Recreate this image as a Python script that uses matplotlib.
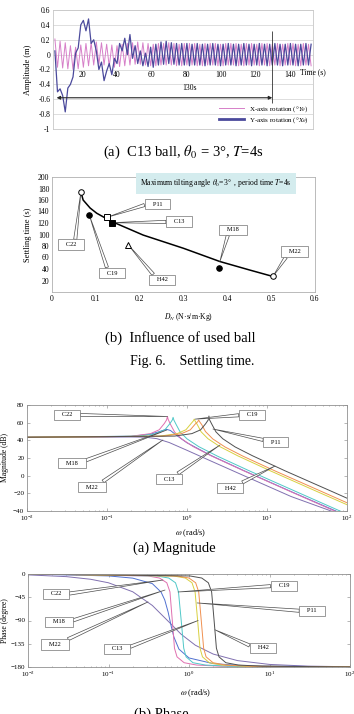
import numpy as np
import matplotlib
matplotlib.use('Agg')
import matplotlib.pyplot as plt
from matplotlib.lines import Line2D

plt.rcParams['font.family'] = ['Liberation Serif', 'DejaVu Serif']
plt.rcParams['mathtext.fontset'] = 'stix'

# ---- (a) time response, C13 ball (peak / trough values every 1.5 s) ----
t = np.arange(4, 153, 1.5)
x_rot = [0.21, -0.17, 0.18, -0.18, 0.16, -0.19, 0.12, -0.20, 0.10, -0.19,
         0.13, -0.17, 0.15, -0.15, 0.16, -0.14, 0.17, -0.13, 0.16, -0.14,
         0.14, -0.16, 0.13, -0.17, 0.12, -0.16, 0.14, -0.15, 0.15, -0.14,
         0.16, -0.13, 0.17, -0.13, 0.16, -0.14, 0.15, -0.15, 0.14, -0.15,
         0.15, -0.14, 0.15, -0.14, 0.16, -0.14, 0.15, -0.15, 0.14, -0.15,
         0.15, -0.14, 0.15, -0.14, 0.15, -0.15, 0.14, -0.15, 0.15, -0.14,
         0.15, -0.14, 0.15, -0.15, 0.14, -0.15, 0.15, -0.14, 0.15, -0.14,
         0.15, -0.15, 0.14, -0.15, 0.15, -0.14, 0.15, -0.14, 0.14, -0.15,
         0.15, -0.14, 0.15, -0.15, 0.14, -0.14, 0.15, -0.15, 0.14, -0.14,
         0.15, -0.14, 0.15, -0.15, 0.14, -0.15, 0.15, -0.14, 0.14, -0.15]
y_rot = [0.05, -0.50, -0.46, -0.55, -0.77, -0.45, -0.40, -0.30, 0.02, 0.09,
         0.40, 0.46, 0.32, 0.48, 0.15, 0.20, 0.05, -0.20, -0.10, -0.35,
         -0.22, -0.12, -0.27, -0.05, -0.12, 0.15, 0.05, 0.22, 0.00, 0.27,
         -0.05, 0.12, -0.12, 0.05, -0.15, 0.02, -0.16, 0.10, -0.17, 0.14,
         -0.14, 0.17, -0.13, 0.18, -0.12, 0.16, -0.13, 0.15, -0.14, 0.15,
         -0.14, 0.15, -0.15, 0.14, -0.14, 0.15, -0.14, 0.14, -0.15, 0.14,
         -0.14, 0.15, -0.14, 0.14, -0.15, 0.14, -0.14, 0.15, -0.14, 0.14,
         -0.15, 0.14, -0.14, 0.15, -0.14, 0.14, -0.15, 0.14, -0.14, 0.15,
         -0.14, 0.14, -0.15, 0.14, -0.14, 0.15, -0.14, 0.14, -0.15, 0.14,
         -0.14, 0.15, -0.14, 0.14, -0.15, 0.14, -0.14, 0.15, -0.14, 0.14]
settle_time = 130

# ---- (b) settling time vs damping ----
balls = ['C22', 'C19', 'P11', 'C13', 'H42', 'M18', 'M22']
dn = [0.066, 0.085, 0.126, 0.136, 0.174, 0.382, 0.504]
ts = [174, 134, 130, 120.5, 82, 41, 27]
fit_x = [0.066, 0.071, 0.087, 0.102, 0.135, 0.208, 0.30, 0.383, 0.452, 0.504]
fit_y = [174, 160, 146, 137, 123, 99, 76, 53, 38, 27]

# ---- Bode magnitude (rad/s, dB) ----
mag = {
    'C22': ([0.01, 0.2, 0.35, 0.45, 0.52, 0.555, 0.57, 0.58, 0.62, 0.7, 0.85, 1.2, 2, 5, 20, 100],
            [43.5, 44.6, 47.6, 52, 59, 63, 67, 64, 58.2, 49.4, 41.8, 32.8, 22.5, 5.9, -18.3, -46.2]),
    'C19': ([0.01, 0.25, 0.4, 0.53, 0.61, 0.655, 0.67, 0.685, 0.73, 0.82, 1.0, 1.4, 2.4, 6, 24, 100],
            [43.5, 44.8, 47.3, 52, 58.8, 63, 66, 63, 58.1, 49.5, 41.7, 32.9, 22.1, 5.5, -18.7, -43.5]),
    'C13': ([0.01, 0.45, 0.75, 0.97, 1.12, 1.2, 1.23, 1.26, 1.34, 1.5, 1.83, 2.6, 4.3, 11, 44, 100],
            [43.5, 44.7, 47.5, 52, 58.8, 62, 64, 62, 58.1, 49.7, 41.8, 32.7, 22.5, 5.5, -18.7, -32.9]),
    'P11': ([0.01, 0.5, 0.85, 1.1, 1.27, 1.36, 1.4, 1.44, 1.53, 1.7, 2.1, 3, 5, 12.5, 50, 100],
            [43.5, 44.7, 47.5, 51.9, 58.5, 61, 63, 61, 57.7, 50, 41.6, 32.4, 22.1, 5.5, -18.6, -30.7]),
    'H42': ([0.01, 0.7, 1.15, 1.48, 1.71, 1.84, 1.88, 1.92, 2.05, 2.3, 2.8, 4, 6.6, 16.8, 67, 100],
            [43.5, 44.8, 47.6, 51.9, 58.8, 63, 67.5, 63, 58, 49.6, 41.8, 32.5, 22.5, 5.5, -18.5, -25.5]),
    'M18': ([0.01, 0.2, 0.35, 0.45, 0.55, 0.62, 0.75, 1.0, 2, 5, 20, 100],
            [43.5, 44.5, 47, 49.8, 52.5, 51.2, 45.3, 37.2, 22.8, 6.2, -18, -45.5]),
    'M22': ([0.01, 0.1, 0.2, 0.3, 0.42, 0.6, 1, 2, 5, 20, 100],
            [43.5, 43.6, 43.8, 43.6, 41.9, 37.5, 28.7, 16.5, 0.5, -23.6, -46.5]),
}

# ---- Bode phase (rad/s, degree) ----
ph_steep = [0, -3.8, -7.8, -17, -34.6, -90, -143.6, -160.4, -171.7, -176.2, -178.5, -179.8]
phase = {
    'C22': ([0.01, 0.31, 0.43, 0.53, 0.58, 0.62, 0.66, 0.71, 0.87, 1.24, 2.5, 100], ph_steep),
    'C19': ([0.01, 0.4, 0.56, 0.68, 0.74, 0.8, 0.86, 0.92, 1.12, 1.6, 3.2, 100], ph_steep),
    'C13': ([0.01, 0.64, 0.9, 1.09, 1.19, 1.28, 1.37, 1.47, 1.79, 2.56, 5.1, 100], ph_steep),
    'P11': ([0.01, 0.71, 1.0, 1.21, 1.32, 1.42, 1.52, 1.63, 1.99, 2.84, 5.7, 100], ph_steep),
    'H42': ([0.01, 1.03, 1.44, 1.74, 1.91, 2.05, 2.19, 2.36, 2.87, 4.1, 8.2, 100], ph_steep),
    'M18': ([0.01, 0.1, 0.2, 0.35, 0.45, 0.5, 0.55, 0.6, 0.65, 0.75, 1.0, 2, 5, 100],
            [0, -3.7, -8, -18.6, -35, -50.3, -73.5, -100.5, -122.2, -145.4, -162.5, -173.5, -177.6, -179.9]),
    'M22': ([0.01, 0.03, 0.06, 0.1, 0.2, 0.35, 0.54, 0.8, 1.2, 2, 4, 10, 30, 100],
            [-1.7, -5.1, -10.2, -17, -34.4, -60.8, -90, -116.7, -137.9, -155, -167.6, -175, -178.3, -179.5]),
}
colors = {'C22': '#e070b0', 'C19': '#50c8c8', 'C13': '#d8d040', 'P11': '#f09050',
          'H42': '#505050', 'M18': '#5070d0', 'M22': '#8070b0'}

# callouts: label, box centre, tip, attach point on box
call_b = [('P11', (0.24, 153), (0.126, 130), (0, 0.5)),
          ('C13', (0.29, 122), (0.136, 120.5), (0, 0.5)),
          ('M18', (0.413, 108), (0.383, 53), (0.3, 0)),
          ('M22', (0.553, 70), (0.504, 27), (0.2, 0)),
          ('C22', (0.043, 82), (0.066, 174), (0.7, 1)),
          ('C19', (0.137, 33), (0.085, 134), (0.3, 1)),
          ('H42', (0.251, 21), (0.174, 82), (0.2, 1))]
call_mag = [('C22', (0.0316, 68.7), (0.57, 67), (1, 0.5)),
            ('C19', (6.5, 68.7), (1.26, 64), (0, 0.5)),
            ('P11', (12.9, 38), (2.11, 52.8), (0, 0.8)),
            ('M18', (0.0365, 14.3), (0.56, 51.7), (1, 0.8)),
            ('M22', (0.065, -12.9), (0.5, 40.4), (0.8, 1)),
            ('C13', (0.6, -3.8), (2.59, 34.7), (0.7, 1)),
            ('H42', (3.45, -14), (12.6, 10.9), (0.8, 1))]
call_ph = [('C22', (0.0223, -38.7), (0.475, -11.6), (1, 0.5)),
           ('M18', (0.0243, -92.8), (0.504, -31), (1, 0.6)),
           ('M22', (0.0216, -137), (0.31, -54), (0.8, 1)),
           ('C13', (0.128, -145), (1.3, -90), (1, 0.7)),
           ('C19', (15.1, -23.2), (0.73, -34.8), (0, 0.5)),
           ('P11', (33.7, -71.6), (1.26, -56), (0, 0.5)),
           ('H42', (8.3, -143), (2.1, -108), (0, 0.7))]


fig = plt.figure(figsize=(3.54, 7.14), dpi=100)


def px_axes(l, t, r, b):
    return fig.add_axes([l / 354, 1 - b / 714, (r - l) / 354, (b - t) / 714])


def callout(ax, label, box, tip, rel, fs=4.6):
    ax.annotate('   ' + label + '   ', xy=tip, xytext=box, ha='center', va='center', fontsize=fs,
                bbox=dict(boxstyle='square,pad=0.45', fc='white', ec='0.45', lw=0.5),
                arrowprops=dict(arrowstyle='wedge,tail_width=0.5', fc='white', ec='0.3', lw=0.5,
                                relpos=rel, shrinkA=0, shrinkB=0),
                annotation_clip=False)


def caption(x, y, s, fs=10.5):
    fig.text(x / 354, 1 - y / 714, s, ha='center', va='center', fontsize=fs)


# ---------------- panel (a) ----------------
ax1 = px_axes(53, 10, 313, 129)
ax1.plot(t, x_rot, color='#d67fc8', lw=0.7)
ax1.plot(t, y_rot, color='#4b4a9c', lw=0.9)
ax1.set_xlim(2.9, 153.6)
ax1.set_ylim(-1, 0.6)
ax1.set_yticks(np.arange(-1, 0.61, 0.2))
ax1.set_yticklabels(['-1', '-0.8', '-0.6', '-0.4', '-0.2', '0', '0.2', '0.4', '0.6'])
ax1.grid(axis='y', color='#d8d8d8', lw=0.6)
ax1.set_xticks([])
for s in ax1.spines.values():
    s.set_color('#c8c8c8')
    s.set_linewidth(0.6)
ax1.tick_params(axis='y', length=0, labelsize=5.5, pad=2)
sec = ax1.secondary_xaxis(0.5)
sec.xaxis.set_ticks_position('bottom')
sec.set_xticks(range(20, 141, 20))
sec.tick_params(length=0, labelsize=5.5, pad=1, labelbottom=True, labeltop=False)
for s in sec.spines.values():
    s.set_visible(False)
ax1.text(146, -0.24, 'Time (s)', fontsize=5.5, ha='left', va='center', clip_on=False)
ax1.set_ylabel('Amplitude (m)', fontsize=6)
ax1.yaxis.set_label_coords(-0.081, 0.5)
ax1.vlines(settle_time, -0.65, 0.32, color='0.2', lw=0.6)
ax1.annotate('', xy=(5, -0.58), xytext=(settle_time, -0.58),
             arrowprops=dict(arrowstyle='<|-|>', lw=0.8, color='0.15', mutation_scale=5,
                             shrinkA=0, shrinkB=0))
ax1.text(82, -0.45, '130s', fontsize=5.5, ha='center', va='center')
h = [Line2D([], [], color='#d67fc8', lw=0.7), Line2D([], [], color='#4b4a9c', lw=2)]
ax1.legend(h, [r'X-axis rotation (°$Y_\theta$)', r'Y-axis rotation (°$X_\theta$)'],
           loc='lower right', frameon=False, fontsize=5, handlelength=3.5,
           borderaxespad=0.15, labelspacing=0.25)
caption(183, 152, r'(a)  C13 ball, $\theta_0$ = 3°, $T$=4s')

# ---------------- panel (b) ----------------
ax2 = px_axes(52, 177, 315, 292)
ax2.plot(fit_x, fit_y, color='black', lw=1.1)
styles = {'C22': ('o', 'white'), 'C19': ('o', 'black'), 'P11': ('s', 'white'),
          'C13': ('s', 'black'), 'H42': ('^', 'white'), 'M18': ('o', 'black'), 'M22': ('o', 'white')}
for name, xv, yv in zip(balls, dn, ts):
    m, fc = styles[name]
    ax2.plot(xv, yv, marker=m, ms=4, mfc=fc, mec='black', mew=0.7, zorder=4)
ax2.set_xlim(0, 0.6)
ax2.set_ylim(0, 200)
ax2.set_yticks(range(20, 201, 20))
ax2.set_xticks([0, 0.1, 0.2, 0.3, 0.4, 0.5, 0.6])
ax2.set_xticklabels(['0', '0.1', '0.2', '0.3', '0.4', '0.5', '0.6'])
ax2.tick_params(length=0, labelsize=5.5, pad=2)
for s in ax2.spines.values():
    s.set_color('#b0b0b0')
    s.set_linewidth(0.6)
ax2.set_ylabel('Settling time (s)', fontsize=6)
ax2.yaxis.set_label_coords(-0.076, 0.5)
ax2.set_xlabel(r'$D_N$ (N·s/m·Kg)', fontsize=5.5)
ax2.xaxis.set_label_coords(0.52, -0.165)
ax2.text(0.374, 189, r'Maximum tilting angle $\theta_0$=3°  , period time $T$=4s', fontsize=5.5,
         ha='center', va='center',
         bbox=dict(boxstyle='square,pad=0.6', fc='#d4ecee', ec='none'))
for name, box, tip, rel in call_b:
    callout(ax2, name, box, tip, rel)
caption(180, 338, '(b)  Influence of used ball')
caption(192, 362, 'Fig. 6.    Settling time.', fs=10)

# ---------------- magnitude ----------------
ax3 = px_axes(27, 405, 347, 511)
for name in ['M22', 'M18', 'C22', 'C19', 'C13', 'P11', 'H42']:
    w, v = mag[name]
    ax3.plot(w, v, color=colors[name], lw=0.7)
ax3.set_xscale('log')
ax3.set_xlim(1e-2, 1e2)
ax3.set_ylim(-40, 80)
ax3.set_yticks(range(-40, 81, 20))
ax3.set_ylabel('Magnitude (dB)', fontsize=5.5)
ax3.yaxis.set_label_coords(-0.056, 0.5)
ax3.set_xlabel(r'$\omega$ (rad/s)', fontsize=6)
ax3.xaxis.set_label_coords(0.51, -0.15)
for name, box, tip, rel in call_mag:
    callout(ax3, name, box, tip, rel)
caption(174, 548, '(a) Magnitude')

# ---------------- phase ----------------
ax4 = px_axes(28, 574, 350, 667)
for name in ['M22', 'M18', 'C22', 'C19', 'C13', 'P11', 'H42']:
    w, v = phase[name]
    ax4.plot(w, v, color=colors[name], lw=0.7)
ax4.set_xscale('log')
ax4.set_xlim(1e-2, 1e2)
ax4.set_ylim(-180, 0)
ax4.set_yticks([-180, -135, -90, -45, 0])
ax4.set_ylabel('Phase (degree)', fontsize=5.5)
ax4.yaxis.set_label_coords(-0.059, 0.5)
ax4.set_xlabel(r'$\omega$ (rad/s)', fontsize=6)
ax4.xaxis.set_label_coords(0.52, -0.215)
for name, box, tip, rel in call_ph:
    callout(ax4, name, box, tip, rel)
caption(161, 714, '(b) Phase')

for ax in (ax3, ax4):
    ax.tick_params(which='both', direction='in', top=True, right=True, labelsize=5, pad=2,
                   length=2, width=0.4, color='0.5')
    ax.tick_params(which='minor', length=1)
    for s in ax.spines.values():
        s.set_color('#909090')
        s.set_linewidth(0.6)

fig.savefig('out.png', dpi=100)
